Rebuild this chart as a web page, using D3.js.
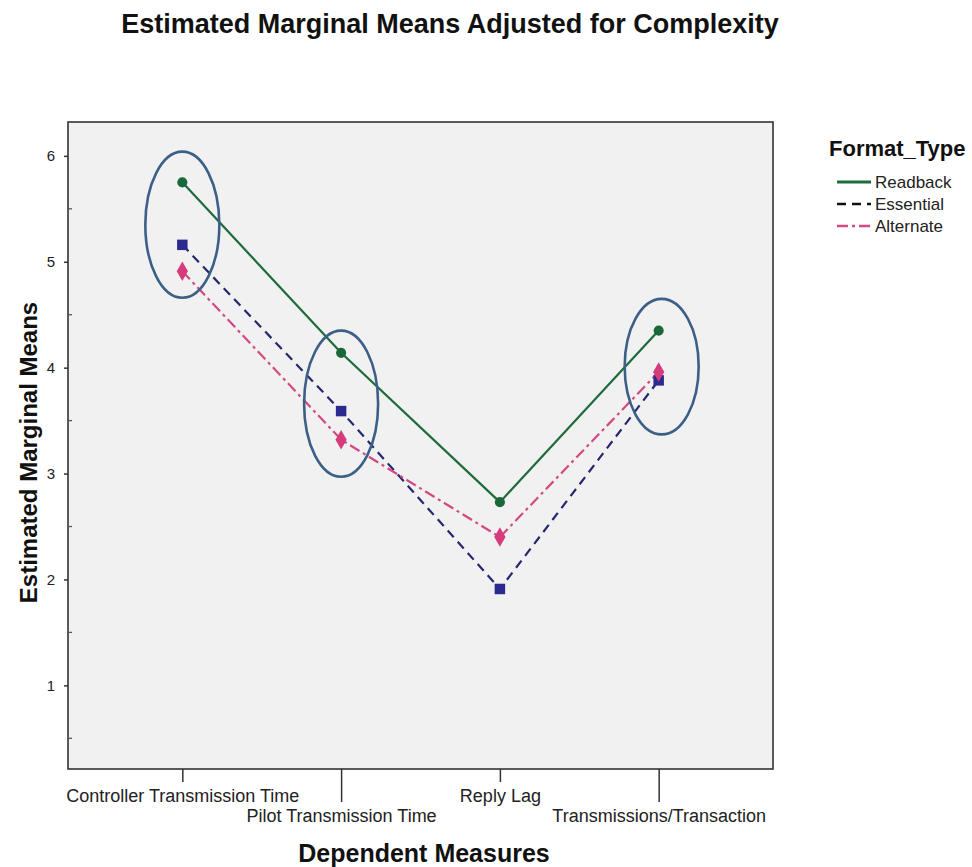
<!DOCTYPE html>
<html><head><meta charset="utf-8">
<script src="https://cdn.jsdelivr.net/npm/d3@7"></script>
<style>body{margin:0;background:#fff;} svg{display:block;font-family:"Liberation Sans",Arial,sans-serif;}</style>
</head><body>
<svg id="c" width="972" height="867"></svg>
<script>
const categories = ["Controller Transmission Time","Pilot Transmission Time","Reply Lag","Transmissions/Transaction"];
const seriesNames = ["Readback","Essential","Alternate"];
const readback = [5.75, 4.14, 2.73, 4.35];
const essential = [5.16, 3.59, 1.91, 3.88];
const alternate = [4.91, 3.32, 2.40, 3.96];
const yTicks = [1,2,3,4,5,6];
const yMinorTicks = [0.5,1.5,2.5,3.5,4.5,5.5];
// annotation ellipses: [category index, centre value, half-height in value units]
const ellipseCats = [0, 1, 3];
const ellipseCentres = [5.35, 3.66, 4.01];
const ellipseHalfHeights = [0.69, 0.69, 0.64];

const svg = d3.select("#c");
const L=68, R=773, T=122, B=769;
const x = d3.scalePoint().domain(categories).range([L,R]).padding(0.72);
const y = d3.scaleLinear().domain([0.21,6.32]).range([B,T]);

svg.append("rect").attr("x",L).attr("y",T).attr("width",R-L).attr("height",B-T)
  .attr("fill","#f1f1f1").attr("stroke","#333").attr("stroke-width",1.6);

// Title
svg.append("text").attr("x",450).attr("y",33).attr("text-anchor","middle")
  .attr("font-weight","bold").attr("font-size",27).attr("fill","#111")
  .text("Estimated Marginal Means Adjusted for Complexity");

// Y axis
const gy = svg.append("g").attr("transform",`translate(${L},0)`);
gy.call(d3.axisLeft(y).tickValues(yTicks).tickSize(4).tickFormat(d3.format("d")));
gy.select(".domain").remove();
gy.selectAll(".tick line").attr("stroke","#333").attr("stroke-width",1.5);
gy.selectAll(".tick text").attr("font-size",15).attr("fill","#222").attr("x",-13).attr("font-family","Liberation Sans, Arial");
gy.selectAll(".minor").data(yMinorTicks).enter().append("line")
  .attr("x1",0).attr("x2",4).attr("y1",d=>y(d)).attr("y2",d=>y(d)).attr("stroke","#555").attr("stroke-width",1.3);

// X axis
const gx = svg.append("g").attr("transform",`translate(0,${B})`);
gx.call(d3.axisBottom(x).tickSizeOuter(0));
gx.select(".domain").remove();
gx.selectAll(".tick line").attr("stroke","#333").attr("stroke-width",1.5).attr("y2",(d,i)=> i%2===0?13:33);
gx.selectAll(".tick text").attr("font-size",18).attr("fill","#222").attr("font-family","Liberation Sans, Arial")
  .attr("dy",null).attr("y",(d,i)=> i%2===0?33:53);

// axis titles
svg.append("text").attr("transform",`translate(37,${(T+B)/2+7}) rotate(-90)`).attr("text-anchor","middle")
  .attr("font-weight","bold").attr("font-size",24).attr("fill","#111").text("Estimated Marginal Means");
svg.append("text").attr("x",424).attr("y",862).attr("text-anchor","middle")
  .attr("font-weight","bold").attr("font-size",25).attr("fill","#111").text("Dependent Measures");

const series = [
  {name:seriesNames[0], vals:readback, color:"#1e6b3c", mcolor:"#18683a", dash:null, shape:d3.symbolCircle, msize:80},
  {name:seriesNames[1], vals:essential, color:"#27276f", mcolor:"#2a2a90", dash:"9,6", shape:d3.symbolSquare, msize:110},
  {name:seriesNames[2], vals:alternate, color:"#d34a82", mcolor:"#d63b7c", dash:"11,4,3,4", shape:d3.symbolDiamond, msize:110}
];
const line = d3.line().x((d,i)=>x(categories[i])).y(d=>y(d));
[series[1],series[2],series[0]].forEach(s=>{
  svg.append("path").datum(s.vals).attr("d",line).attr("fill","none")
    .attr("stroke",s.color).attr("stroke-width",2.2).attr("stroke-dasharray",s.dash);
});
[series[1],series[2],series[0]].forEach(s=>{
  svg.selectAll(null).data(s.vals).enter().append("path")
    .attr("d",d3.symbol().type(s.shape).size(s.msize))
    .attr("transform",(d,i)=>`translate(${x(categories[i])},${y(d)})`)
    .attr("fill",s.mcolor);
});

// annotation ellipses
ellipseCats.forEach((c,i)=>{
  const cy = y(ellipseCentres[i]);
  const ry = y(ellipseCentres[i]-ellipseHalfHeights[i]) - cy;
  svg.append("ellipse").attr("cx",x(categories[c])+(c===3?3:0)).attr("cy",cy)
    .attr("rx",37).attr("ry",ry).attr("fill","none").attr("stroke","#3b5f86").attr("stroke-width",2.6);
});

// legend
const lg = svg.append("g");
lg.append("text").attr("x",829).attr("y",156).attr("font-weight","bold").attr("font-size",22).attr("fill","#111").text("Format_Type");
series.forEach((s,i)=>{
  const yy = 182 + i*22;
  lg.append("line").attr("x1",837).attr("x2",871).attr("y1",yy).attr("y2",yy)
    .attr("stroke",i===1?"#111":s.color).attr("stroke-width",i===0?3:2.4).attr("stroke-dasharray",s.dash);
  lg.append("text").attr("x",875).attr("y",yy+6).attr("font-size",17).attr("fill","#222").text(s.name);
});
</script>
</body></html>
